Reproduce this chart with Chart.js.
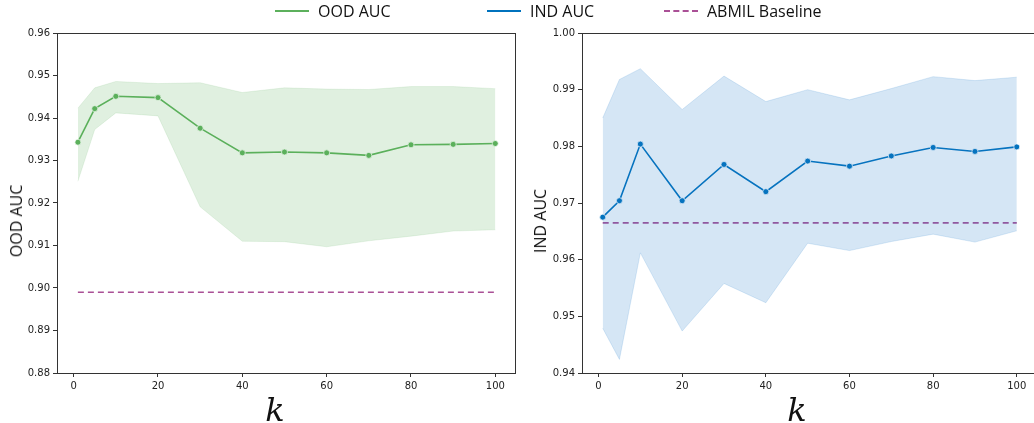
<!DOCTYPE html>
<html>
<head>
<meta charset="utf-8">
<script src="https://cdn.jsdelivr.net/npm/chart.js@4"></script>
<style>
  html, body { margin: 0; padding: 0; background: #fff; }
  #wrap { position: relative; width: 1034px; height: 423px; overflow: hidden; }
  canvas { position: absolute; top: 0; }
  #c1 { left: 0; }
  #c2 { left: 517px; }
  .leg { position: absolute; top: 0; height: 22px; font-family: "Open Sans", sans-serif; font-size: 16px; color: #111; line-height: 22px; white-space: nowrap; }
  .sw { position: absolute; top: 10px; width: 34px; height: 0; }
  .yt { position: absolute; font-family: "Open Sans", sans-serif; font-size: 16px; color: #111; line-height: 16px; white-space: nowrap;
        transform: translate(-50%, -50%) rotate(-90deg); }
  .xt { position: absolute; font-family: "DejaVu Serif", serif; font-style: italic; font-size: 32px; color: #111; line-height: 32px;
        transform: translate(-50%, -50%); }
</style>
</head>
<body>
<div id="wrap">
  <canvas id="c1" width="521" height="423"></canvas>
  <canvas id="c2" width="540" height="423"></canvas>
  <div class="sw" style="left:275px;border-top:2px solid rgb(92,176,92);"></div>
  <div class="leg" style="left:318px;">OOD AUC</div>
  <div class="sw" style="left:487px;border-top:2px solid rgb(0,114,189);"></div>
  <div class="leg" style="left:530px;">IND AUC</div>
  <div class="sw" style="left:664px;border-top:2px dashed rgb(170,80,150);"></div>
  <div class="leg" style="left:707px;">ABMIL Baseline</div>
  <div class="yt" style="left:16px;top:221px;">OOD AUC</div>
  <div class="yt" style="left:540px;top:221px;">IND AUC</div>
  <div class="xt" style="left:275px;top:410px;">k</div>
  <div class="xt" style="left:797px;top:410px;">k</div>
</div>
<script>
const kValues = [1, 5, 10, 20, 30, 40, 50, 60, 70, 80, 90, 100];

const oodMean  = [0.9343, 0.9422, 0.9451, 0.9448, 0.9376, 0.9318, 0.9320, 0.9318, 0.9312, 0.9337, 0.9338, 0.9340];
const oodUpper = [0.9423, 0.9471, 0.9486, 0.9481, 0.9483, 0.9460, 0.9471, 0.9468, 0.9467, 0.9474, 0.9474, 0.9469];
const oodLower = [0.9251, 0.9373, 0.9412, 0.9405, 0.9191, 0.9110, 0.9109, 0.9097, 0.9111, 0.9122, 0.9134, 0.9137];
const oodBaseline = 0.8990;

const indMean  = [0.9675, 0.9704, 0.9804, 0.9704, 0.9768, 0.9720, 0.9774, 0.9765, 0.9783, 0.9798, 0.9791, 0.9799];
const indUpper = [0.9850, 0.9918, 0.9937, 0.9865, 0.9924, 0.9879, 0.9900, 0.9882, 0.9902, 0.9923, 0.9916, 0.9922];
const indLower = [0.9479, 0.9424, 0.9612, 0.9474, 0.9558, 0.9524, 0.9629, 0.9616, 0.9632, 0.9645, 0.9631, 0.9651];
const indBaseline = 0.9665;

const xTicks = [0, 20, 40, 60, 80, 100];
const oodTicks = [0.88, 0.89, 0.90, 0.91, 0.92, 0.93, 0.94, 0.95, 0.96];
const indTicks = [0.94, 0.95, 0.96, 0.97, 0.98, 0.99, 1.00];

const frame = {
  id: 'frame',
  afterDraw(chart) {
    const a = chart.chartArea, ctx = chart.ctx;
    ctx.save();
    ctx.strokeStyle = '#333';
    ctx.lineWidth = 1;
    ctx.strokeRect(Math.round(a.left) + 0.5, Math.round(a.top) + 0.5, Math.round(a.right - a.left) - 1, Math.round(a.bottom - a.top));
    ctx.restore();
  }
};

function pts(ys) { return kValues.map((k, i) => ({ x: k, y: ys[i] })); }

function makeChart(id, o) {
  const chart = new Chart(document.getElementById(id), {
    type: 'line',
    data: {
      datasets: [
        { data: pts(o.upper), borderColor: o.edge, borderWidth: 1, pointRadius: 0, fill: false, tension: 0 },
        { data: pts(o.lower), borderColor: o.edge, borderWidth: 1, pointRadius: 0, fill: '-1', backgroundColor: o.band, tension: 0 },
        { data: pts(o.mean), borderColor: o.color, borderWidth: 1.6, pointRadius: 3, pointBackgroundColor: o.color,
          pointBorderColor: '#fff', pointBorderWidth: 0.8, fill: false, tension: 0 },
        { data: [{ x: kValues[0], y: o.base }, { x: kValues[kValues.length - 1], y: o.base }], borderColor: 'rgb(170,80,150)',
          borderWidth: 1.6, borderDash: [6, 4], pointRadius: 0, fill: false }
      ]
    },
    options: {
      responsive: false,
      animation: false,
      devicePixelRatio: 1,
      layout: { padding: { top: 33, right: 0, left: 0, bottom: 0 } },
      plugins: { legend: { display: false }, tooltip: { enabled: false } },
      scales: {
        x: {
          type: 'linear', min: -3.95, max: 104.95,
          afterBuildTicks: s => { s.ticks = xTicks.map(v => ({ value: v })); },
          afterFit: s => { s.height = 50; },
          grid: { display: true, drawOnChartArea: false, drawTicks: true, tickLength: 4, color: '#333' },
          border: { display: false },
          ticks: { color: '#222', font: { family: 'DejaVu Sans', size: 10 }, padding: 3, maxRotation: 0,
                   callback: v => String(v) }
        },
        y: {
          type: 'linear', min: o.ticks[0], max: o.ticks[o.ticks.length - 1],
          afterBuildTicks: s => { s.ticks = o.ticks.map(v => ({ value: v })); },
          afterFit: s => { s.width = o.yWidth; },
          grid: { display: true, drawOnChartArea: false, drawTicks: true, tickLength: 4, color: '#333' },
          border: { display: false },
          ticks: { color: '#222', font: { family: 'DejaVu Sans', size: 10 }, padding: 3,
                   callback: v => Number(v).toFixed(2) }
        }
      }
    },
    plugins: [frame]
  });
  // adjust right padding so the plot area ends at the wanted edge
  for (let i = 0; i < 3; i++) {
    const d = chart.chartArea.right - o.areaRight;
    if (Math.abs(d) < 0.3) break;
    chart.options.layout.padding.right += d;
    chart.update();
  }
  return chart;
}

makeChart('c1', {
  mean: oodMean, upper: oodUpper, lower: oodLower, base: oodBaseline, ticks: oodTicks,
  color: 'rgb(92,176,92)', band: 'rgba(92,176,92,0.19)', edge: 'rgba(92,176,92,0.12)',
  yWidth: 57, areaRight: 515
});
makeChart('c2', {
  mean: indMean, upper: indUpper, lower: indLower, base: indBaseline, ticks: indTicks,
  color: 'rgb(0,114,189)', band: 'rgba(30,120,200,0.19)', edge: 'rgba(30,120,200,0.15)',
  yWidth: 65, areaRight: 520.5
});
</script>
</body>
</html>
